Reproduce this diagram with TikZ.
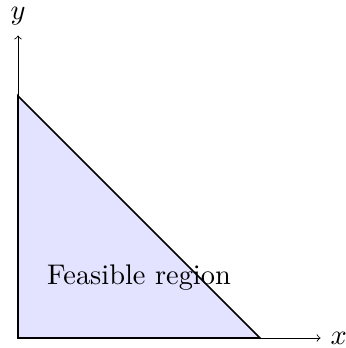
\documentclass[tikz,border=0pt]{standalone}
\begin{document}
\begin{tikzpicture}[
  axis/.style={->, line width=0.4pt},
  region/.style={fill=blue!11, draw=black, line width=0.8pt},
  lbl/.style={scale=1.335}
]
\useasboundingbox (-0.298,-0.165) rectangle (5.405,5.587);
\coordinate (O) at (0,0);
\coordinate (A) at (4,0);
\coordinate (B) at (0,4);
\coordinate (X) at (5,0);
\coordinate (Y) at (0,5);
\filldraw[region] (O) -- (A) -- (B) -- cycle;
\draw[axis] (O) -- (X) node[right, lbl] (xl) {$x$};
\draw[axis] (O) -- (Y) node[above, lbl] (yl) {$y$};
\node[lbl] (fr) at (2,1) {Feasible region};
\end{tikzpicture}
\end{document}
